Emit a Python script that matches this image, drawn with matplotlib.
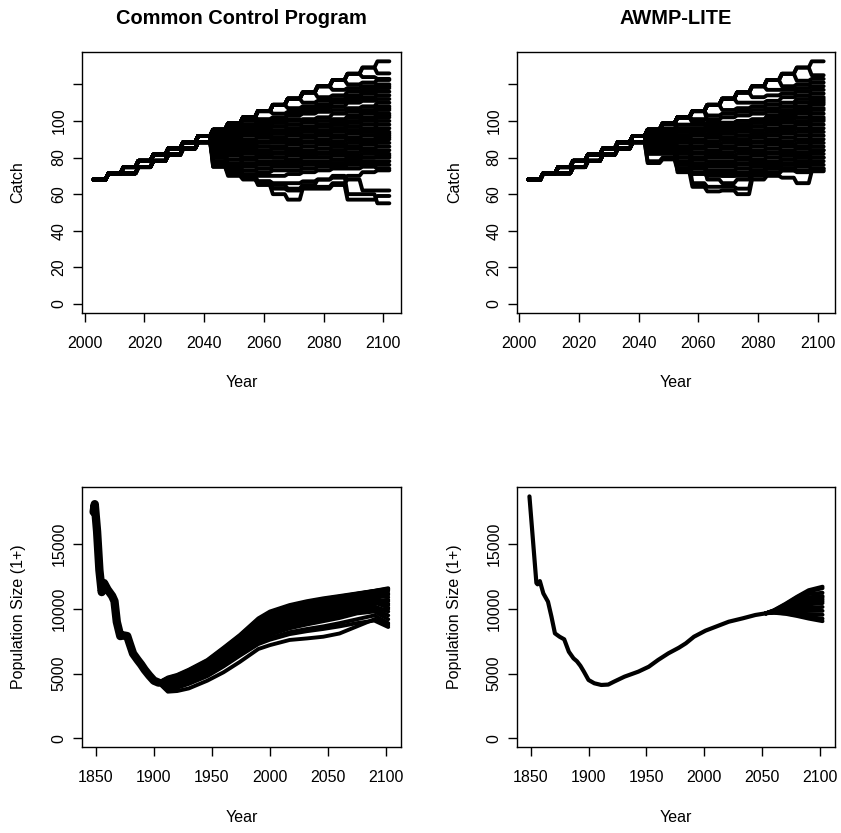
import numpy as np
import matplotlib
matplotlib.use('Agg')
import matplotlib.pyplot as plt

plt.rcParams['font.family'] = ['Liberation Sans', 'DejaVu Sans']

# ---------------------------------------------------------------
# catch: one value per 5-year block, blocks start 2003, 2008, ... 2098
catch_years = np.arange(2003, 2103)
need_early = [68, 71.4, 74.8, 78.2, 81.6, 85, 88.4, 91.8]        # 2003-2038
lag_early = [68, 71.4, 71.4, 74.8, 78.2, 81.6, 85, 88.4]         # 2003-2038, one block behind

# blocks 2043..2098 for each simulation ('n' = followed need early on, 'l' = lagged)
ccp_catch = [
    ('n', [95.2, 98.6, 102, 105.4, 108.8, 112.2, 115.6, 119, 122.4, 125.8, 129.2, 132.6]),
    ('n', [95.2, 98.6, 102, 105.4, 108.8, 112.2, 115.6, 119, 122.4, 125.8, 129.2, 126]),
    ('n', [95.2, 98.6, 102, 105.4, 108.8, 112.2, 115.6, 119, 122.4, 125.8, 124, 123]),
    ('n', [95.2, 98.6, 102, 105.4, 108.8, 112.2, 115.6, 119, 122.4, 120, 121, 122.4]),
    ('n', [95.2, 98.6, 102, 105.4, 108.8, 112.2, 115.6, 119, 117, 118, 119, 120]),
    ('n', [95.2, 98.6, 102, 105.4, 108.8, 112.2, 115.6, 113, 114, 116, 117, 118]),
    ('n', [95.2, 98.6, 102, 105.4, 108.8, 112.2, 110, 111, 112, 114, 115, 116]),
    ('n', [95.2, 98.6, 102, 105.4, 108.8, 107, 108, 109, 111, 112, 113, 114]),
    ('n', [95.2, 98.6, 102, 105.4, 104, 105, 106, 107, 108, 110, 111, 112]),
    ('n', [95.2, 98.6, 102, 101, 102, 103, 104, 105, 106, 107, 108, 110]),
    ('n', [95.2, 98.6, 97, 98, 99, 100, 101, 102, 104, 105, 106, 108]),
    ('n', [95.2, 95, 96, 96, 97, 98, 99, 100, 101, 102, 104, 106]),
    ('l', [93, 94, 94, 95, 95, 96, 97, 98, 99, 100, 102, 104]),
    ('n', [92, 92, 93, 93, 94, 95, 96, 97, 98, 99, 100, 102]),
    ('l', [91, 91, 92, 92, 93, 93, 94, 95, 96, 97, 98, 100]),
    ('n', [90, 90, 90, 91, 91, 92, 92, 93, 94, 95, 96, 98]),
    ('l', [89, 89, 89, 89, 90, 90, 91, 92, 92, 93, 94, 96]),
    ('n', [88, 88, 87, 88, 88, 89, 89, 90, 91, 91, 92, 94]),
    ('l', [87, 87, 86, 86, 86, 87, 88, 88, 89, 90, 90, 92]),
    ('n', [86, 85, 85, 84, 85, 85, 86, 87, 87, 88, 89, 90]),
    ('l', [85, 84, 83, 83, 83, 84, 84, 85, 86, 86, 87, 88]),
    ('n', [84, 83, 82, 81, 82, 82, 83, 83, 84, 85, 85, 86]),
    ('l', [83, 82, 80, 80, 80, 81, 81, 82, 82, 83, 84, 84]),
    ('n', [82, 81, 79, 78, 78, 79, 80, 80, 81, 81, 82, 82]),
    ('l', [81, 79, 77, 76, 77, 77, 78, 78, 79, 80, 80, 80]),
    ('n', [80, 77, 75, 74, 75, 75, 76, 77, 77, 78, 78, 78]),
    ('l', [78, 75, 73, 72, 73, 73, 74, 75, 75, 76, 77, 76]),
    ('n', [76, 73, 71, 70, 70, 71, 72, 73, 74, 74, 75, 74]),
    ('l', [75, 71.4, 69, 67, 66, 66, 67, 68, 69, 70, 72, 73]),
    ('n', [75, 70, 68, 66, 63, 62, 64, 64, 66, 68, 62, 62]),
    ('l', [78, 72, 69, 65, 60, 57, 63, 63, 65, 57, 57, 59]),
    ('n', [80, 74, 70, 67, 65, 63, 65, 68, 70, 60, 60, 55]),
    ('l', [88, 86, 84, 82, 80, 78, 77, 76, 77, 79, 80, 81]),
    ('n', [90, 88, 87, 86, 85, 84, 83, 82, 84, 86, 88, 91]),
    ('n', [95.2, 97, 95, 94, 93, 93, 92, 94, 96, 99, 101, 103]),
    ('l', [94, 96, 98, 100, 97, 96, 95, 97, 100, 103, 105, 107]),
    ('n', [95.2, 98.6, 100, 99, 101, 104, 106, 108, 110, 112, 116, 119]),
    ('l', [92, 93, 95, 97, 99, 101, 100, 98, 96, 95, 94, 93]),
]

awmp_catch = [
    ('n', [95.2, 98.6, 102, 105.4, 108.8, 112.2, 115.6, 119, 122.4, 125.8, 129.2, 132.6]),
    ('n', [95.2, 98.6, 102, 105.4, 108.8, 112.2, 115.6, 119, 122.4, 125.8, 129.2, 125]),
    ('n', [95.2, 98.6, 102, 105.4, 108.8, 112.2, 115.6, 119, 122.4, 125.8, 122, 123]),
    ('n', [95.2, 98.6, 102, 105.4, 108.8, 112.2, 115.6, 119, 122.4, 119, 120, 121]),
    ('n', [95.2, 98.6, 102, 105.4, 108.8, 112.2, 115.6, 119, 117, 117, 118, 119]),
    ('n', [95.2, 98.6, 102, 105.4, 108.8, 112.2, 115.6, 113, 114, 115, 116, 117]),
    ('n', [95.2, 98.6, 102, 105.4, 108.8, 112.2, 110, 110, 111, 113, 114, 115]),
    ('n', [95.2, 98.6, 102, 105.4, 108.8, 106, 107, 108, 109, 110, 112, 113]),
    ('n', [95.2, 98.6, 102, 105.4, 103, 104, 105, 106, 107, 108, 110, 111]),
    ('n', [95.2, 98.6, 102, 101, 101, 102, 103, 104, 105, 106, 107, 109]),
    ('n', [95.2, 98.6, 98, 98, 99, 99, 100, 101, 102, 103, 105, 107]),
    ('n', [95.2, 98.6, 96, 96, 96, 97, 98, 99, 100, 101, 102, 104]),
    ('n', [95.2, 96, 94, 94, 95, 95, 96, 97, 98, 99, 100, 102]),
    ('l', [94, 94, 92, 92, 93, 93, 94, 95, 96, 97, 98, 100]),
    ('n', [93, 93, 91, 90, 91, 91, 92, 93, 94, 95, 96, 98]),
    ('l', [92, 92, 90, 89, 89, 90, 90, 91, 92, 93, 94, 96]),
    ('n', [91, 91, 89, 88, 87, 88, 89, 89, 90, 91, 92, 94]),
    ('l', [90, 90, 88, 86, 86, 86, 87, 88, 88, 89, 90, 92]),
    ('n', [89, 89, 86, 85, 84, 85, 85, 86, 87, 87, 88, 90]),
    ('l', [88, 88, 85, 83, 83, 83, 84, 84, 85, 86, 86, 88]),
    ('n', [87, 87, 84, 82, 81, 81, 82, 83, 83, 84, 85, 86]),
    ('l', [86, 86, 83, 80, 80, 80, 80, 81, 82, 82, 83, 84]),
    ('n', [85, 85, 82, 79, 78, 78, 79, 79, 80, 81, 81, 82]),
    ('l', [84, 84, 80, 77, 76, 77, 77, 78, 78, 79, 80, 80]),
    ('n', [83, 83, 78, 75, 75, 75, 76, 76, 77, 77, 78, 78]),
    ('l', [82, 82, 76, 74, 73, 73, 74, 75, 75, 76, 76, 76]),
    ('l', [78, 80, 74, 72, 72, 72, 72, 73, 74, 74, 75, 74]),
    ('l', [77, 79, 73, 71, 70, 70, 71, 71, 72, 73, 73, 73]),
    ('n', [88, 88, 72, 64, 61.5, 62, 60, 68, 70, 69, 66, 72.5]),
    ('l', [86, 86, 76, 66, 64, 64, 63, 70, 71, 73, 72, 74]),
    ('n', [95.2, 92, 84, 75, 68, 66, 68, 72, 74, 76, 78, 80]),
    ('l', [90, 90, 80, 76, 72, 70, 70, 73, 76, 79, 81, 84]),
    ('n', [95.2, 98.6, 94, 93, 92, 91, 90, 92, 94, 96, 99, 101]),
    ('n', [95.2, 98.6, 102, 105.4, 100, 98, 97, 99, 101, 104, 108, 112]),
    ('n', [95.2, 98.6, 102, 99, 97, 96, 95, 97, 99, 102, 104, 106]),
    ('l', [92, 94, 96, 96, 98, 99, 100, 100, 103, 105, 107, 110]),
]

# ---------------------------------------------------------------
# population size (1+)
ccp_hist_years = [1848, 1849, 1851, 1853, 1855, 1857, 1860, 1864, 1866, 1868, 1871, 1874,
                  1877, 1879, 1882, 1886, 1889, 1892, 1896, 1900, 1904]
ccp_hist_pop = [17500, 18100, 16000, 13000, 11300, 12000, 11500, 11000, 10600, 9000, 7900, 7950,
                7900, 7350, 6550, 6050, 5700, 5300, 4850, 4450, 4300]

ccp_years = [1904, 1912, 1920, 1930, 1946, 1960, 1974, 1990, 2000, 2017, 2032, 2046, 2060, 2075, 2090, 2102]
ccp_pop = [
    [4300, 4700, 4900, 5300, 6050, 7000, 7980, 9270, 9800, 10300, 10600, 10820, 11000, 11200, 11400, 11600],
    [4300, 4650, 4850, 5250, 6000, 6940, 7920, 9180, 9720, 10220, 10520, 10760, 10950, 11170, 11390, 11550],
    [4300, 4600, 4800, 5200, 5950, 6880, 7850, 9100, 9650, 10150, 10450, 10700, 10900, 11150, 11380, 11500],
    [4300, 4500, 4700, 5100, 5850, 6750, 7700, 8900, 9450, 9950, 10250, 10500, 10750, 11000, 11300, 11200],
    [4300, 4450, 4650, 5050, 5800, 6700, 7650, 8800, 9350, 9850, 10150, 10400, 10500, 10600, 10650, 10700],
    [4300, 4400, 4600, 5000, 5750, 6620, 7550, 8700, 9250, 9750, 10050, 10300, 10600, 10900, 11200, 10900],
    [4300, 4300, 4500, 4900, 5650, 6500, 7400, 8500, 9050, 9550, 9850, 10100, 10400, 10700, 11000, 11400],
    [4300, 4250, 4450, 4850, 5600, 6440, 7320, 8400, 8950, 9450, 9750, 10000, 10300, 10600, 10900, 10300],
    [4300, 4200, 4400, 4800, 5550, 6380, 7250, 8300, 8850, 9350, 9650, 9900, 10200, 10500, 10700, 10400],
    [4300, 4150, 4350, 4750, 5500, 6300, 7200, 8200, 8750, 9250, 9550, 9800, 10100, 10450, 10800, 11100],
    [4300, 4100, 4300, 4700, 5450, 6250, 7100, 8100, 8650, 9150, 9450, 9700, 10000, 10300, 10500, 10100],
    [4300, 4050, 4250, 4650, 5400, 6180, 7020, 8000, 8550, 9050, 9350, 9600, 9900, 10200, 10400, 10600],
    [4300, 4000, 4200, 4600, 5350, 6120, 6950, 7900, 8450, 8950, 9250, 9500, 9800, 10100, 10200, 9800],
    [4300, 3900, 4100, 4500, 5200, 6000, 6800, 7700, 8250, 8750, 9050, 9300, 9550, 9900, 10000, 9500],
    [4300, 3850, 4050, 4450, 5120, 5920, 6720, 7600, 8120, 8620, 8920, 9170, 9420, 9780, 9900, 10000],
    [4300, 3800, 4000, 4400, 5050, 5850, 6650, 7500, 8000, 8500, 8800, 9050, 9300, 9650, 9800, 9200],
    [4300, 3750, 3950, 4300, 4900, 5650, 6480, 7350, 7750, 8200, 8450, 8650, 8900, 9200, 9500, 8900],
    [4300, 3700, 3900, 4200, 4800, 5550, 6380, 7280, 7620, 8050, 8280, 8450, 8650, 8900, 9100, 8600],
    [4300, 3600, 3650, 3850, 4450, 5100, 5900, 6900, 7200, 7600, 7720, 7850, 8100, 8650, 9200, 8760],
]

awmp_hist_years = [1849, 1855, 1856, 1858, 1861, 1865, 1868, 1871, 1875, 1879, 1883, 1887, 1890,
                   1893, 1896, 1900, 1905, 1911, 1917, 1922, 1931, 1943, 1952, 1960, 1969, 1978,
                   1984, 1991, 2001, 2010, 2021, 2033, 2044, 2053]
awmp_hist_pop = [18700, 12000, 11900, 12150, 11200, 10560, 9400, 8110, 7850, 7650, 6690, 6180, 5950,
                 5600, 5150, 4505, 4250, 4120, 4150, 4375, 4760, 5150, 5530, 6050, 6570, 7000,
                 7340, 7850, 8320, 8630, 9010, 9270, 9530, 9660]

awmp_years = [2053, 2060, 2070, 2080, 2090, 2102]
awmp_pop = [
    [9660, 9900, 10400, 10950, 11450, 11720],
    [9660, 9880, 10350, 10900, 11350, 11600],
    [9660, 9860, 10250, 10750, 11150, 11250],
    [9660, 9840, 10150, 10550, 10900, 11000],
    [9660, 9830, 10100, 10450, 10800, 10900],
    [9660, 9820, 10050, 10350, 10650, 10750],
    [9660, 9800, 10000, 10250, 10500, 10600],
    [9660, 9800, 9950, 10150, 10350, 10450],
    [9660, 9780, 9850, 9950, 10100, 10150],
    [9660, 9760, 9760, 9800, 9850, 9850],
    [9660, 9740, 9700, 9650, 9600, 9550],
    [9660, 9720, 9650, 9520, 9380, 9250],
    [9660, 9700, 9620, 9450, 9250, 9050],
]

# ---------------------------------------------------------------
fig = plt.figure(figsize=(8.41, 8.33), dpi=100)
W, H = 841.0, 833.0

def panel(left, top, right, bottom):
    return fig.add_axes([left / W, 1 - bottom / H, (right - left) / W, (bottom - top) / H])

ax_tl = panel(82, 52, 401, 312.7)
ax_tr = panel(516.7, 52, 835.3, 312.7)
ax_bl = panel(82, 486.7, 401, 747.3)
ax_br = panel(516.7, 486.7, 835.3, 747.3)

lw = 2.8

def draw_catch(ax, runs):
    for flag, late in runs:
        early = need_early if flag == 'n' else lag_early
        blocks = list(early) + list(late)
        ax.plot(catch_years, np.repeat(blocks, 5), color='black', lw=lw,
                solid_capstyle='round', solid_joinstyle='round')

draw_catch(ax_tl, ccp_catch)
draw_catch(ax_tr, awmp_catch)

ax_bl.plot(ccp_hist_years, ccp_hist_pop, color='black', lw=6.0, solid_capstyle='round')
for p in ccp_pop:
    ax_bl.plot(ccp_years, p, color='black', lw=lw, solid_capstyle='round')

ax_br.plot(awmp_hist_years, awmp_hist_pop, color='black', lw=3.0, solid_capstyle='round')
for p in awmp_pop:
    ax_br.plot(awmp_years, p, color='black', lw=lw, solid_capstyle='round')

# axes styling (R base graphics look)
for ax in [ax_tl, ax_tr, ax_bl, ax_br]:
    for s in ax.spines.values():
        s.set_linewidth(1.0)
        s.set_color('black')
    ax.tick_params(direction='out', length=6.5, width=1.0, labelsize=11.5, colors='black')
    ax.tick_params(axis='x', pad=10)
    ax.tick_params(axis='y', pad=4.5)

for ax, title, ylx in [(ax_tl, 'Common Control Program', -0.2006), (ax_tr, 'AWMP-LITE', -0.194)]:
    ax.set_xlim(1999.1, 2105.9)
    ax.set_ylim(-4.8, 137.7)
    ax.set_xticks([2000, 2020, 2040, 2060, 2080, 2100])
    ax.set_yticks([0, 20, 40, 60, 80, 100, 120])
    ax.set_yticklabels(['0', '20', '40', '60', '80', '100', ''], rotation=90, va='center')
    ax.set_title(title, fontsize=14.4, fontweight='bold', pad=20)
    ax.text(ylx, 0.5, 'Catch', transform=ax.transAxes, rotation=90,
            ha='center', va='center', fontsize=11.5)
    ax.text(0.5, -0.268, 'Year', transform=ax.transAxes, ha='center', va='center', fontsize=11.5)

for ax, ylx in [(ax_bl, -0.2006), (ax_br, -0.194)]:
    ax.set_xlim(1838, 2113)
    ax.set_ylim(-700, 19450)
    ax.set_xticks([1850, 1900, 1950, 2000, 2050, 2100])
    ax.set_yticks([0, 5000, 10000, 15000])
    ax.set_yticklabels(['0', '5000', '10000', '15000'], rotation=90, va='center')
    ax.text(ylx, 0.5, 'Population Size (1+)', transform=ax.transAxes, rotation=90,
            ha='center', va='center', fontsize=11.5)
    ax.text(0.5, -0.269, 'Year', transform=ax.transAxes, ha='center', va='center', fontsize=11.5)

plt.savefig('out.png', dpi=100)
